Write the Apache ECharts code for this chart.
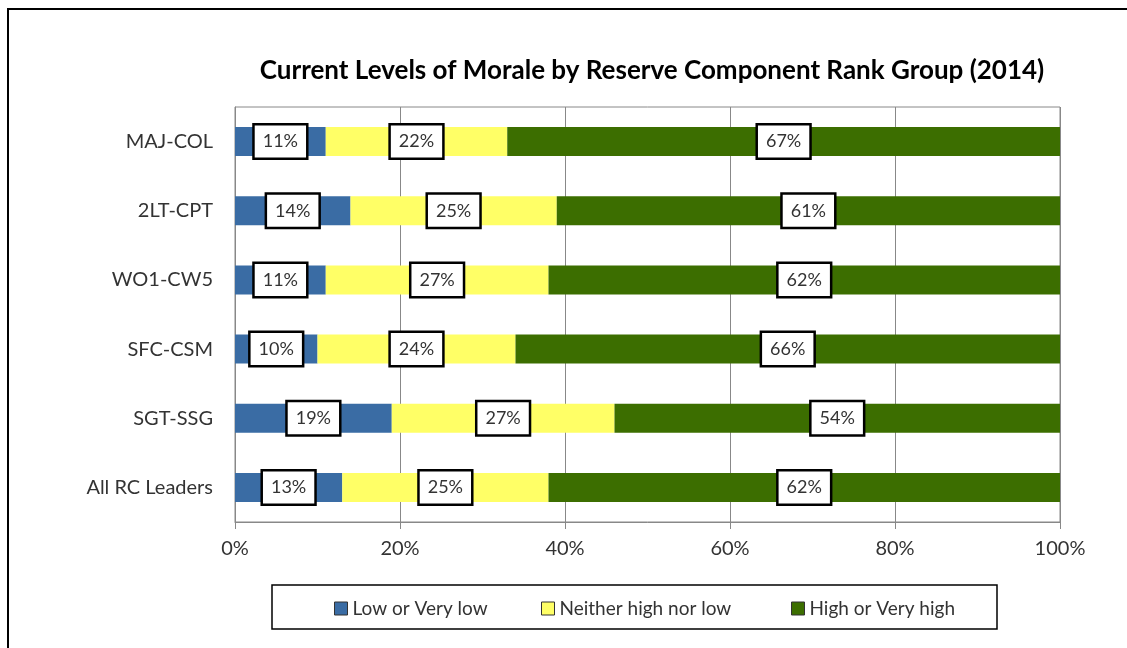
<!DOCTYPE html>
<html>
<head>
<meta charset="utf-8">
<script src="https://cdn.jsdelivr.net/npm/echarts@6/dist/echarts.min.js"></script>
<style>
  html, body { margin: 0; padding: 0; background: #fff; }
  #chart { width: 1127px; height: 648px; }
</style>
</head>
<body>
<div id="chart"></div>
<script>
var categories = ['MAJ-COL', '2LT-CPT', 'WO1-CW5', 'SFC-CSM', 'SGT-SSG', 'All RC Leaders'];
var lowValues = [11, 14, 11, 10, 19, 13];
var neitherValues = [22, 25, 27, 24, 27, 25];
var highValues = [67, 61, 62, 66, 54, 62];
var xTicks = [0, 20, 40, 60, 80, 100];

var myChart = echarts.init(document.getElementById('chart'));

var fontName = 'Lato, Carlito, sans-serif';

// white boxed value labels like the excel chart
var boxLabel = {
    show: true,
    position: 'inside',
    formatter: '{c}%',
    color: '#333',
    fontFamily: fontName,
    fontSize: 18,
    backgroundColor: '#fff',
    borderColor: '#000',
    borderWidth: 2.5,
    padding: [8, 8, 6, 8]
};

function legendAt(name, left) {
    return {
        data: [name],
        left: left,
        top: 594,
        itemWidth: 13,
        itemHeight: 13,
        itemGap: 3,
        icon: 'rect',
        itemStyle: { borderColor: '#333', borderWidth: 1 },
        textStyle: { fontFamily: fontName, fontSize: 19, color: '#333' },
        selectedMode: false
    };
}

var option = {
    title: {
        text: 'Current Levels of Morale by Reserve Component Rank Group (2014)',
        left: 647,
        textAlign: 'center',
        top: 53,
        textStyle: { fontFamily: fontName, fontSize: 26, fontWeight: 'bold', color: '#000' }
    },
    legend: [
        legendAt('Low or Very low', 329),
        legendAt('Neither high nor low', 536),
        legendAt('High or Very high', 786)
    ],
    grid: {
        left: 235,
        right: 67,
        top: 107,
        bottom: 126,
        show: true,
        borderColor: '#888',
        borderWidth: 1
    },
    xAxis: {
        type: 'value',
        min: 0,
        max: 100,
        interval: 20,
        axisLine: { show: true, lineStyle: { color: '#888' } },
        axisTick: { show: true, length: 7, lineStyle: { color: '#888' } },
        splitLine: { show: true, lineStyle: { color: '#888' } },
        axisLabel: {
            formatter: function (v) { return xTicks.indexOf(v) >= 0 ? v + '%' : ''; },
            fontFamily: fontName,
            fontSize: 20,
            color: '#333',
            margin: 17
        }
    },
    yAxis: {
        type: 'category',
        inverse: true,
        data: categories,
        axisLine: { show: true, lineStyle: { color: '#888' } },
        axisTick: { show: false },
        axisLabel: { fontFamily: fontName, fontSize: 20, color: '#333', margin: 22 }
    },
    series: [
        {
            name: 'Low or Very low',
            type: 'bar',
            stack: 'all',
            barWidth: '42%',
            itemStyle: { color: '#3A6CA4' },
            label: boxLabel,
            data: lowValues
        },
        {
            name: 'Neither high nor low',
            type: 'bar',
            stack: 'all',
            itemStyle: { color: '#FFFF66' },
            label: boxLabel,
            data: neitherValues
        },
        {
            name: 'High or Very high',
            type: 'bar',
            stack: 'all',
            itemStyle: { color: '#3C6E00' },
            label: boxLabel,
            data: highValues
        }
    ],
    graphic: [
        {
            type: 'rect',
            shape: { x: 8, y: 9, width: 1140, height: 660 },
            style: { fill: 'none', stroke: '#000', lineWidth: 2 },
            silent: true
        },
        {
            type: 'rect',
            shape: { x: 272, y: 585, width: 725, height: 44 },
            style: { fill: 'none', stroke: '#000', lineWidth: 1.5 },
            silent: true
        }
    ]
};

myChart.setOption(option);
</script>
</body>
</html>
